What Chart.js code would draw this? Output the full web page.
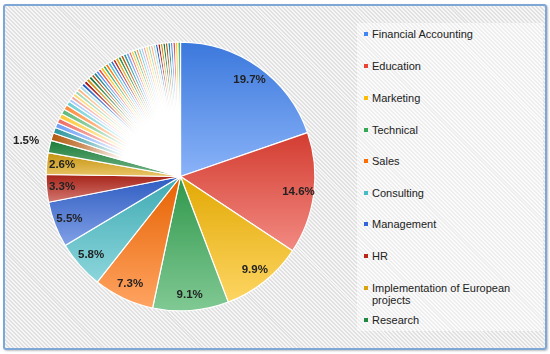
<!DOCTYPE html>
<html>
<head>
<meta charset="utf-8">
<script src="https://cdn.jsdelivr.net/npm/chart.js@4.4.0/dist/chart.umd.min.js"></script>
<style>
  html, body { margin: 0; padding: 0; width: 550px; height: 354px; overflow: hidden; background: #fff;
    font-family: "Liberation Sans", Arial, sans-serif; }
  #frame { position: absolute; left: 3px; top: 4px; width: 540px; height: 342px;
    border: 2px solid #7ea7d8; border-radius: 3px; box-shadow: 1px 1px 2px rgba(0,0,0,0.25);
    background: repeating-linear-gradient(45deg, #e1e1e1 0 1.4px, #f6f6f6 1.4px 2.8px); }
  #legendPanel { position: absolute; left: 357px; top: 23px; width: 186px; height: 308px;
    background: repeating-linear-gradient(45deg, #eeeeee 0 1.4px, #fbfbfb 1.4px 2.8px); }
  #chartBox { position: absolute; left: 0; top: 0; width: 360px; height: 354px; }
  #legend { position: absolute; left: 363px; top: 0; width: 182px; }
  .item { position: absolute; left: 0; font-size: 11px; line-height: 12.5px; color: #222; padding-left: 9px; white-space: normal; width: 170px; }
  .sw { position: absolute; left: 1px; top: 4.5px; width: 4px; height: 4px; }
</style>
</head>
<body>
<div id="frame"></div>
<div id="legendPanel"></div>
<div id="chartBox"><canvas id="pie"></canvas></div>
<div id="legend"></div>
<script>
// named categories (shown in legend)
const categories = ['Financial Accounting', 'Education', 'Marketing', 'Technical', 'Sales',
  'Consulting', 'Management', 'HR', 'Implementation of European projects', 'Research'];
const mainValues = [19.7, 14.6, 9.9, 9.1, 7.3, 5.8, 5.5, 3.3, 2.6, 1.5];
// unnamed small slices
const smallValues = [0.9, 0.7, 0.6, 0.6, 0.6, 0.6, 0.6, 0.5,
  0.4, 0.4, 0.4, 0.4, 0.4, 0.4, 0.4, 0.4, 0.4, 0.4,
  0.35, 0.35, 0.35, 0.35, 0.35, 0.35, 0.35, 0.35, 0.35, 0.35, 0.35, 0.35, 0.35, 0.35, 0.35,
  0.3, 0.3, 0.3, 0.3, 0.3, 0.3, 0.3, 0.3, 0.3, 0.3, 0.3, 0.3, 0.3, 0.3, 0.3,
  0.3, 0.3, 0.3, 0.3, 0.3, 0.3];
const legendY = [34, 66, 98, 130, 161, 193, 224, 256, 288, 320];

const palette = ['#4285f4', '#ea4335', '#fbbc04', '#34a853', '#ff6d01', '#46bdc6',
  '#3366d6', '#b8261a', '#dba20c', '#1f8a3f', '#b4580c', '#2a959c',
  '#6d9ef5', '#ee6a60', '#fcc934', '#5cb978', '#ff8a3a', '#6ccdd3',
  '#a8c7fa', '#f5a39c', '#fdd663', '#9dd4ae', '#ffb17a', '#a2dde1',
  '#1a56c4', '#a50e0e', '#c98a00', '#137333', '#a04808', '#12808a'];

const labels = categories.concat(smallValues.map((v, i) => 'Other ' + (i + 1)));
const values = mainValues.concat(smallValues);
const colors = values.map((v, i) => palette[i % palette.length]);

function mix(hex, other, t) {
  const a = parseInt(hex.slice(1), 16), b = parseInt(other.slice(1), 16);
  const ch = (n, s) => (n >> s) & 255;
  const m = s => Math.round(ch(a, s) * (1 - t) + ch(b, s) * t);
  return 'rgb(' + m(16) + ',' + m(8) + ',' + m(0) + ')';
}

// big slices: vertical gradient over the slice's own box, darker on top
// thin slices: fade to white towards the centre
function sliceFill(ctx) {
  const chart = ctx.chart, area = chart.chartArea;
  const c = colors[ctx.dataIndex];
  if (!area) return c;
  const i = ctx.dataIndex;
  const cx = (area.left + area.right) / 2;
  const cy = (area.top + area.bottom) / 2;
  const r = Math.min(area.width, area.height) / 2;
  if (i >= mainValues.length) {
    const rg = chart.ctx.createRadialGradient(cx, cy, 0, cx, cy, r);
    rg.addColorStop(0, '#ffffff');
    rg.addColorStop(0.45, '#ffffff');
    rg.addColorStop(0.75, mix(c, '#ffffff', 0.35));
    rg.addColorStop(1, c);
    return rg;
  }
  const total = values.reduce((a, b) => a + b, 0);
  let before = 0;
  for (let k = 0; k < i; k++) before += values[k];
  const a0 = -Math.PI / 2 + before / total * 2 * Math.PI;
  const a1 = a0 + values[i] / total * 2 * Math.PI;
  const ys = [cy, cy + r * Math.sin(a0), cy + r * Math.sin(a1)];
  [Math.PI / 2, 3 * Math.PI / 2].forEach(t => { if (t > a0 && t < a1) ys.push(cy + r * Math.sin(t)); });
  const y0 = Math.min(...ys), y1 = Math.max(...ys);
  const g = chart.ctx.createLinearGradient(0, y0, 0, Math.max(y1, y0 + 1));
  g.addColorStop(0, mix(c, '#000000', 0.1));
  g.addColorStop(1, mix(c, '#ffffff', 0.38));
  return g;
}

const pctLabels = {
  id: 'pctLabels',
  afterDatasetsDraw(chart) {
    const meta = chart.getDatasetMeta(0);
    const ctx = chart.ctx;
    ctx.save();
    ctx.font = 'bold 11.5px "Liberation Sans", Arial, sans-serif';
    ctx.fillStyle = '#222';
    ctx.textAlign = 'center';
    ctx.textBaseline = 'middle';
    mainValues.forEach((v, i) => {
      const arc = meta.data[i];
      const mid = (arc.startAngle + arc.endAngle) / 2;
      const rr = v >= 2 ? arc.outerRadius * 0.885 : arc.outerRadius + 24;
      ctx.fillText(v.toFixed(1) + '%', arc.x + Math.cos(mid) * rr, arc.y + Math.sin(mid) * rr);
    });
    ctx.restore();
  }
};

new Chart(document.getElementById('pie'), {
  type: 'pie',
  data: {
    labels: labels,
    datasets: [{
      data: values,
      backgroundColor: sliceFill,
      borderColor: '#ffffff',
      borderWidth: 1.2
    }]
  },
  options: {
    responsive: true,
    maintainAspectRatio: false,
    animation: false,
    layout: { padding: { left: 45.5, right: 44.5, top: 41.5, bottom: 42.5 } },
    plugins: { legend: { display: false }, tooltip: { enabled: false } }
  },
  plugins: [pctLabels]
});

const legendBox = document.getElementById('legend');
categories.forEach((name, i) => {
  const item = document.createElement('div');
  item.className = 'item';
  item.style.top = (legendY[i] - 6.25) + 'px';
  const sw = document.createElement('span');
  sw.className = 'sw';
  sw.style.background = colors[i];
  item.appendChild(sw);
  item.appendChild(document.createTextNode(name));
  legendBox.appendChild(item);
});
</script>
</body>
</html>
